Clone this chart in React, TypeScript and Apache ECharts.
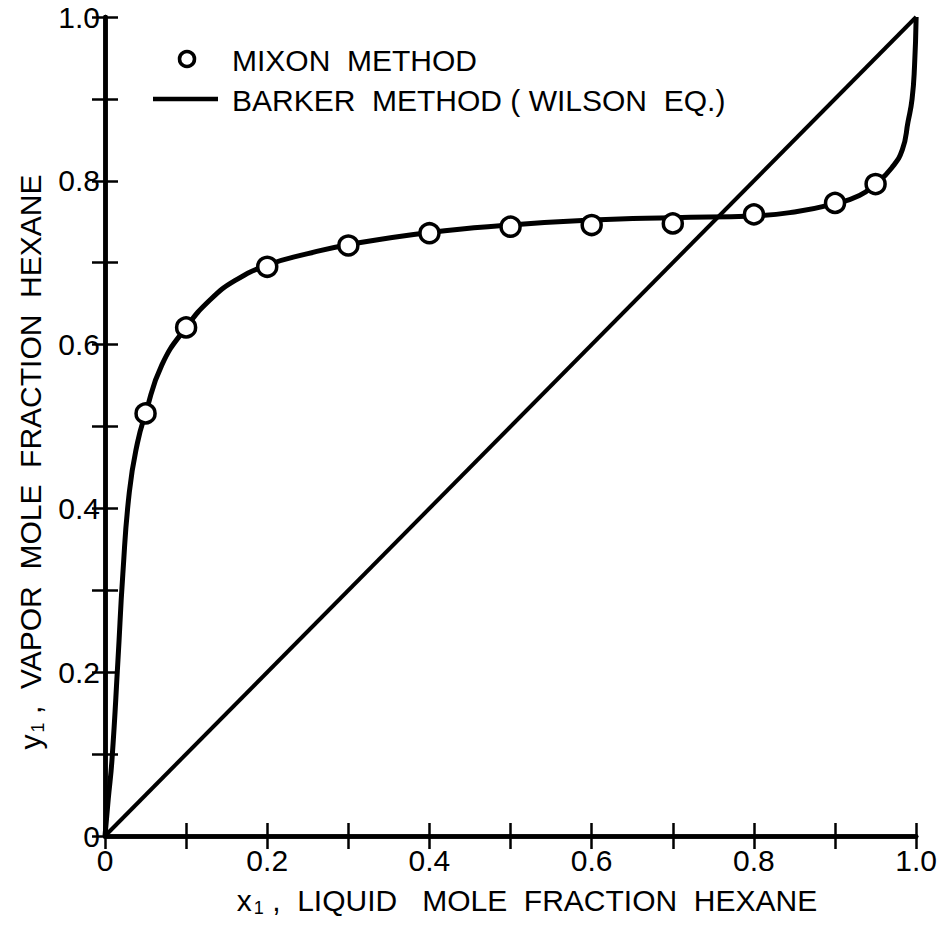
import React, { useEffect, useRef } from "react";
import * as echarts from "echarts";

const mixonX = [0.05, 0.1, 0.2, 0.3, 0.4, 0.5, 0.6, 0.7, 0.8, 0.9, 0.95];
const mixonY = [0.516, 0.621, 0.695, 0.721, 0.736, 0.744, 0.746, 0.748, 0.759, 0.773, 0.796];

const barkerX = [0, 0.004, 0.0086, 0.016, 0.022, 0.03, 0.04, 0.05, 0.07, 0.1, 0.13, 0.16, 0.2, 0.25, 0.3, 0.4, 0.5, 0.6, 0.7, 0.8, 0.85, 0.9, 0.93, 0.95, 0.97, 0.983, 0.99, 0.995, 0.998, 1.0];
const barkerY = [0, 0.045, 0.093, 0.215, 0.32, 0.42, 0.48, 0.516, 0.575, 0.621, 0.655, 0.678, 0.697, 0.711, 0.722, 0.737, 0.746, 0.752, 0.755, 0.757, 0.762, 0.772, 0.782, 0.796, 0.816, 0.838, 0.872, 0.9, 0.94, 1.0];

const diagX = [0, 1];
const diagY = [0, 1];

const FONT = "Liberation Sans";

function tickLabel(v: number): string {
  const k = Math.round(v * 10);
  if (k === 0) return "0";
  if (k === 10) return "1.0";
  if (k % 2 !== 0) return "";
  return (k / 10).toFixed(1);
}

export default function App() {
  const ref = useRef<HTMLDivElement>(null);
  useEffect(() => {
    if (!ref.current) return;
    const chart = echarts.init(ref.current, null, { renderer: "svg" });
    const axisLine = { show: true, lineStyle: { color: "#000", width: 4.5 } };
    const axisTick = { show: true, inside: true, length: 13, lineStyle: { color: "#000", width: 2.5 } };
    const label = { show: true, color: "#000", fontFamily: FONT, fontSize: 30, formatter: tickLabel };
    const richTitle = {
      n: { fontFamily: FONT, fontSize: 30, fill: "#000" },
      s: { fontFamily: FONT, fontSize: 18, fill: "#000", padding: [16, 0, 0, 2] },
    };
    chart.setOption({
      animation: false,
      backgroundColor: "#fff",
      grid: { left: 105, right: 17, top: 17, bottom: 90, containLabel: false },
      xAxis: [
        { type: "value", min: 0, max: 1, interval: 0.1, position: "bottom", axisLine, axisTick, axisLabel: { ...label, margin: 9 }, splitLine: { show: false } },
        { type: "value", min: 0, max: 1, interval: 0.1, position: "top", axisLine, axisTick, axisLabel: { show: false }, splitLine: { show: false } },
      ],
      yAxis: [
        { type: "value", min: 0, max: 1, interval: 0.1, position: "left", axisLine, axisTick, axisLabel: { ...label, margin: 5 }, splitLine: { show: false } },
        { type: "value", min: 0, max: 1, interval: 0.1, position: "right", axisLine, axisTick, axisLabel: { show: false }, splitLine: { show: false } },
      ],
      series: [
        {
          type: "line",
          name: "diagonal",
          data: diagX.map((x, i) => [x, diagY[i]]),
          showSymbol: false,
          lineStyle: { color: "#000", width: 4 },
          z: 2,
        },
        {
          type: "line",
          name: "BARKER METHOD (WILSON EQ.)",
          data: barkerX.map((x, i) => [x, barkerY[i]]),
          showSymbol: false,
          smooth: 0.5,
          lineStyle: { color: "#000", width: 5 },
          z: 3,
        },
        {
          type: "scatter",
          name: "MIXON METHOD",
          data: mixonX.map((x, i) => [x, mixonY[i]]),
          symbol: "circle",
          symbolSize: 19,
          itemStyle: { color: "#fff", borderColor: "#000", borderWidth: 3.5, opacity: 1 },
          z: 5,
        },
      ],
      graphic: [
        { type: "circle", shape: { cx: 187, cy: 59, r: 7.5 }, style: { fill: "#fff", stroke: "#000", lineWidth: 3.5 }, z: 10 },
        { type: "text", x: 232, y: 60, style: { text: "MIXON  METHOD", fontFamily: FONT, fontSize: 30, fill: "#000", verticalAlign: "middle" }, z: 10 },
        { type: "line", shape: { x1: 153, y1: 99, x2: 218, y2: 99 }, style: { stroke: "#000", lineWidth: 4.5 }, z: 10 },
        { type: "text", x: 232, y: 100, style: { text: "BARKER  METHOD ( WILSON  EQ.)", fontFamily: FONT, fontSize: 30, fill: "#000", verticalAlign: "middle" }, z: 10 },
        {
          type: "text",
          x: 527,
          y: 900,
          style: {
            text: "{n|x}{s|1} ,  LIQUID   MOLE  FRACTION  HEXANE",
            align: "center",
            verticalAlign: "middle",
            fontFamily: FONT,
            fontSize: 30,
            fill: "#000",
            rich: richTitle,
          },
        },
        {
          type: "text",
          x: 30,
          y: 462,
          rotation: Math.PI / 2,
          style: {
            text: "{n|y}{s|1} ,  VAPOR  MOLE  FRACTION  HEXANE",
            align: "center",
            verticalAlign: "middle",
            fontFamily: FONT,
            fontSize: 30,
            fill: "#000",
            rich: richTitle,
          },
        },
      ],
    });
    return () => chart.dispose();
  }, []);
  return <div ref={ref} style={{ position: "fixed", left: 0, top: 0, width: 940, height: 926 }} />;
}
